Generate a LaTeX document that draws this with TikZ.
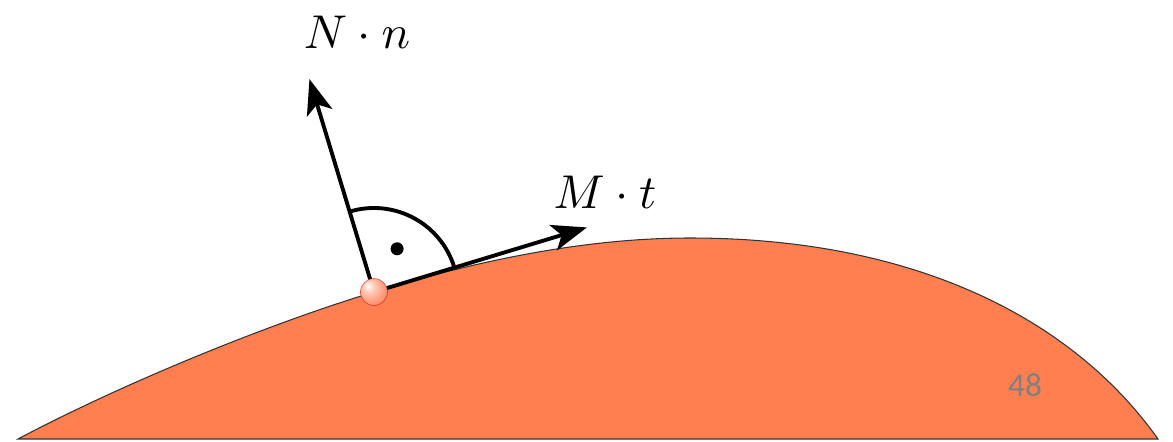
\documentclass[tikz,border=0pt]{standalone}
\usepackage{fontspec}
\newfontfamily\slidefont{Carlito}
\usetikzlibrary{arrows.meta, calc}
\definecolor{coral}{RGB}{255,127,80}
\definecolor{pagegray}{RGB}{128,128,128}
\pgfdeclareradialshading{pointball}{\pgfpoint{-12bp}{12bp}}{%
  color(0bp)=(white); color(12bp)=(coral!45!white);
  color(40bp)=(coral!85!red); color(60bp)=(coral!80!red)}

\tikzset{
  vec/.style={line width=2.2pt, -{Stealth[length=20pt, width=15pt, inset=5pt]}},
  mathlabel/.style={scale=2.7}
}

\begin{document}
\begin{tikzpicture}
                \useasboundingbox (0,0) rectangle (23.46,8.82);
                % the body
                \filldraw[fill=coral, draw=black!80, line width=0.6pt]
                    (0.36,0.04) .. controls (2.30,1.07) and (5.18,2.28) .. (7.48,2.98)
                    .. controls (9.39,3.56) and (11.6,4.06) .. (13.8,4.06)
                    .. controls (18.3,4.06) and (21.46,2.44) .. (23.16,0.04) -- cycle;
                
                \coordinate (p) at (7.48,2.98);
                \coordinate (ntip) at ($(p)+(106.87:4.45)$);
                \coordinate (ttip) at ($(p)+(16.87:4.45)$);
                \draw[vec] (p) -- (ntip);
                \draw[vec] (p) -- (ttip);
                
                % right angle mark
                \draw[line width=2.2pt] ($(p)+(16.87:1.68)$) arc[start angle=16.87, end angle=106.87, radius=1.68];
                \fill ($(p)+(61.87:0.98)$) circle (0.13);
                \shade[shading=pointball] (p) circle (0.27);
                \draw[red!70!black, opacity=0.5, line width=0.4pt] (p) circle (0.27);
                
                \node[mathlabel] (nlabel) at (7.14,8.18) {$N\cdot n$};
                \node[mathlabel] (tlabel) at (12.1,4.98) {$M\cdot t$};
                \node[text=pagegray, font=\slidefont\fontsize{19}{23}\selectfont] (pagenum) at (20.5,1.12) {48};
\end{tikzpicture}
\end{document}
